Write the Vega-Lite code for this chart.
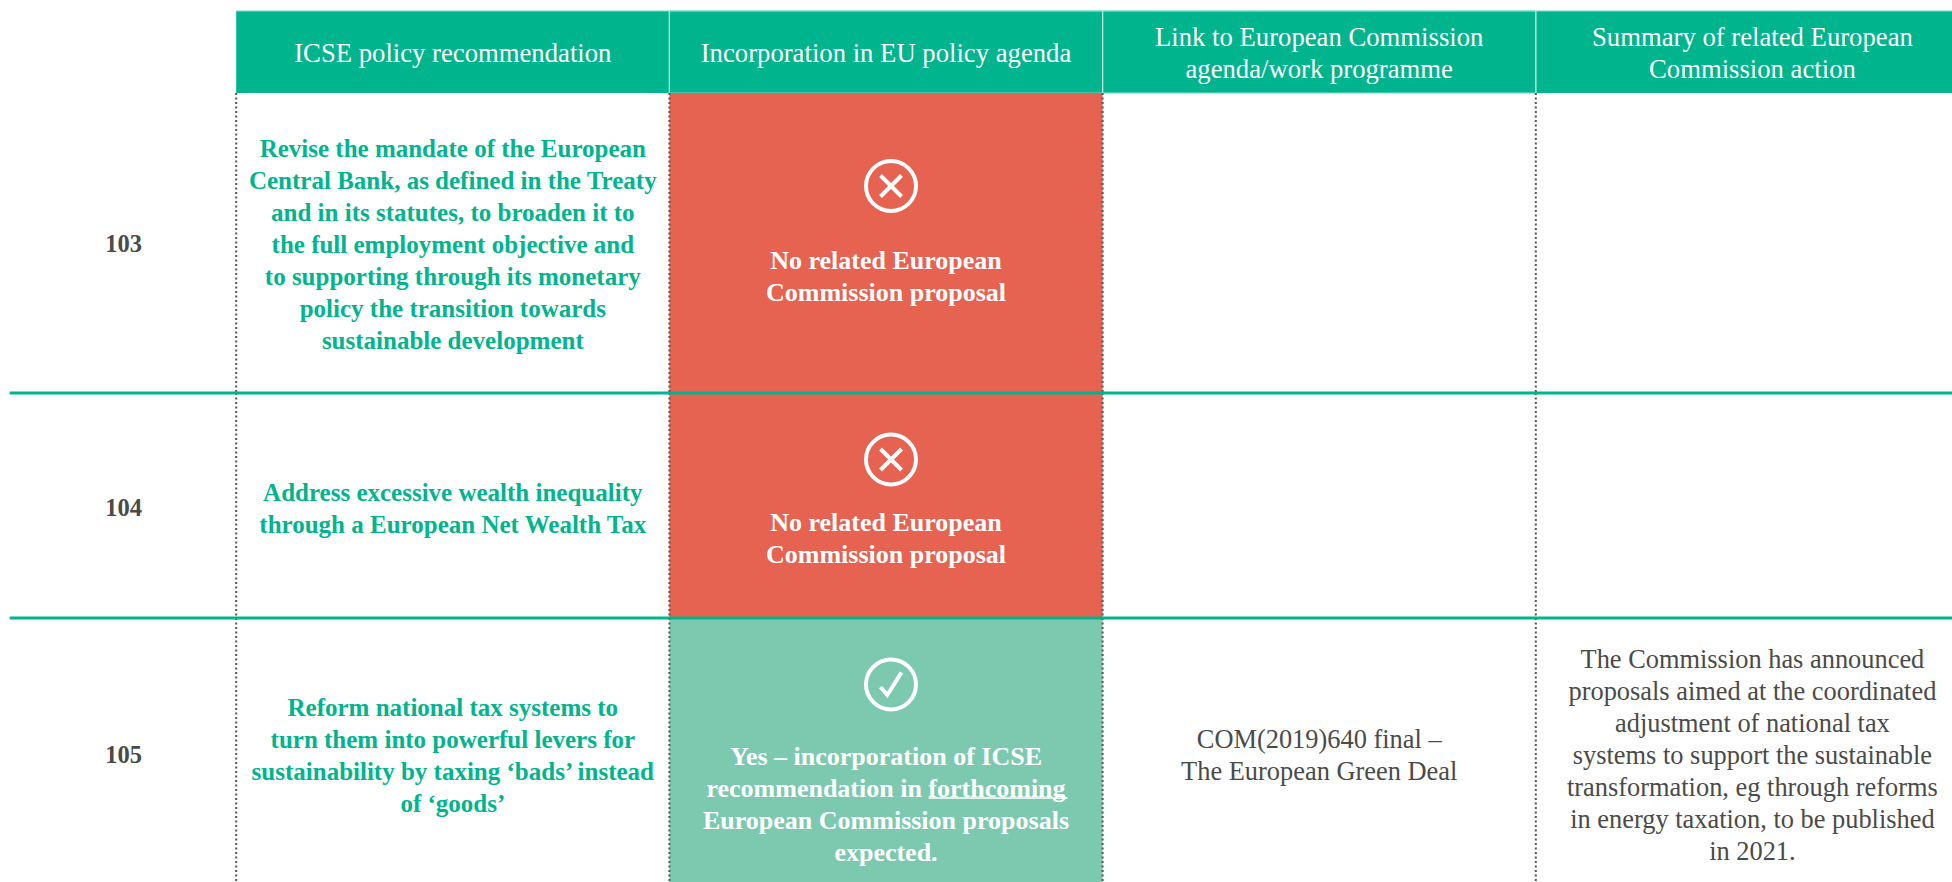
{
"$schema":"https://vega.github.io/schema/vega-lite/v6.json",
"padding":{"left":0,"top":10,"right":0,"bottom":0},
"spacing":0,
"bounds":"flush",
"background":"white",
"config":{"view":{"stroke":null},"axis":{"disable":true},"legend":{"disable":true},"concat":{"spacing":0},
"text":{"font":"Liberation Serif","fontSize":26,"lineHeight":32,"lineBreak":"\n","align":"center","baseline":"middle"}},
"datasets":{"cells":[
{"row":"Header","column":"Number","text":"","status":null},
{"row":"Header","column":"ICSE policy recommendation","text":"ICSE policy recommendation","status":null},
{"row":"Header","column":"Incorporation in EU policy agenda","text":"Incorporation in EU policy agenda","status":null},
{"row":"Header","column":"Link to European Commission agenda/work programme","text":"Link to European Commission\nagenda/work programme","status":null},
{"row":"Header","column":"Summary of related European Commission action","text":"Summary of related European\nCommission action","status":null},
{"row":"103","column":"Number","text":"103","status":null},
{"row":"103","column":"ICSE policy recommendation","text":"Revise the mandate of the European\nCentral Bank, as defined in the Treaty\nand in its statutes, to broaden it to\nthe full employment objective and\nto supporting through its monetary\npolicy the transition towards\nsustainable development","status":null},
{"row":"103","column":"Incorporation in EU policy agenda","text":"No related European\nCommission proposal","status":"no"},
{"row":"103","column":"Link to European Commission agenda/work programme","text":"","status":null},
{"row":"103","column":"Summary of related European Commission action","text":"","status":null},
{"row":"104","column":"Number","text":"104","status":null},
{"row":"104","column":"ICSE policy recommendation","text":"Address excessive wealth inequality\nthrough a European Net Wealth Tax","status":null},
{"row":"104","column":"Incorporation in EU policy agenda","text":"No related European\nCommission proposal","status":"no"},
{"row":"104","column":"Link to European Commission agenda/work programme","text":"","status":null},
{"row":"104","column":"Summary of related European Commission action","text":"","status":null},
{"row":"105","column":"Number","text":"105","status":null},
{"row":"105","column":"ICSE policy recommendation","text":"Reform national tax systems to\nturn them into powerful levers for\nsustainability by taxing ‘bads’ instead\nof ‘goods’","status":null},
{"row":"105","column":"Incorporation in EU policy agenda","text":"Yes – incorporation of ICSE\nrecommendation in forthcoming\nEuropean Commission proposals\nexpected.","status":"yes"},
{"row":"105","column":"Link to European Commission agenda/work programme","text":"COM(2019)640 final –\nThe European Green Deal","status":null},
{"row":"105","column":"Summary of related European Commission action","text":"The Commission has announced\nproposals aimed at the coordinated\nadjustment of national tax\nsystems to support the sustainable\ntransformation, eg through reforms\nin energy taxation, to be published\nin 2021.","status":null}
]},
"vconcat":[
{"width":1952,"height":82,"data":{"name":"cells"},"transform":[{"filter":"datum.row==='Header'"}],
"encoding":{"x":{"field":"column","type":"nominal","scale":{"domain":["Number","ICSE policy recommendation","Incorporation in EU policy agenda","Link to European Commission agenda/work programme","Summary of related European Commission action"],"range":[-197,1969],"padding":0}}},
"layer":[
{"transform":[{"filter":"datum.column!=='Number'"}],"mark":{"type":"rect","color":"#00B48E","clip":true},"encoding":{}},
{"transform":[{"filter":"datum.column==='Incorporation in EU policy agenda'||datum.column==='Link to European Commission agenda/work programme'"}],"mark":{"type":"rect","fill":"#00B48E","stroke":"#7ADBC5","strokeWidth":1.2},"encoding":{}},
{"transform":[{"filter":"datum.column==='ICSE policy recommendation'"}],"mark":{"type":"rule","color":"#7ADBC5","strokeWidth":1.2},"encoding":{"x":{"field":"column","type":"nominal","bandPosition":0},"x2":{"value":1952},"y":{"field":"row","type":"nominal","bandPosition":0,"scale":{"padding":0}}}},
{"transform":[{"filter":"datum.column!=='Number'&&datum.column!=='ICSE policy recommendation'"}],"mark":{"type":"rule","color":"#B5E8DA","strokeWidth":1.2},"encoding":{"x":{"field":"column","type":"nominal","bandPosition":0}}},
{"transform":[{"filter":"datum.column!=='Number'&&indexof(datum.text,'\\n')<0"}],"mark":{"type":"text","color":"white","yOffset":2,"fontSize":26.7},"encoding":{"text":{"field":"text"}}},
{"transform":[{"filter":"datum.column!=='Number'&&indexof(datum.text,'\\n')>=0"}],"mark":{"type":"text","color":"white","yOffset":-14,"fontSize":26.7},"encoding":{"text":{"field":"text"}}}
]},
{"width":1952,"height":300,"data":{"name":"cells"},"transform":[{"filter":"datum.row==='103'"}],
"encoding":{"x":{"field":"column","type":"nominal","scale":{"domain":["Number","ICSE policy recommendation","Incorporation in EU policy agenda","Link to European Commission agenda/work programme","Summary of related European Commission action"],"range":[-197,1969],"padding":0}}},
"layer":[
{"transform":[{"filter":"isValid(datum.status)"}],"mark":{"type":"rect"},"encoding":{"color":{"field":"status","type":"nominal","scale":{"domain":["no","yes"],"range":["#E66251","#7CC9AF"]}}}},
{"transform":[{"filter":"datum.column!=='Number'"}],"mark":{"type":"rule","color":"#555555","strokeWidth":2,"strokeDash":[2,2.5]},"encoding":{"x":{"field":"column","type":"nominal","bandPosition":0}}},
{"transform":[{"filter":"datum.column==='Number'"}],"mark":{"type":"text","color":"#4A4A4A","fontWeight":"bold","fontSize":24.5,"yOffset":2},"encoding":{"x":{"field":"column","type":"nominal","bandPosition":0.74},"text":{"field":"text"}}},
{"transform":[{"filter":"datum.column==='ICSE policy recommendation'"}],"mark":{"type":"text","color":"#00B48E","fontWeight":"bold","fontSize":25,"yOffset":-94},"encoding":{"text":{"field":"text"}}},
{"transform":[{"filter":"isValid(datum.status)"}],"mark":{"type":"text","color":"white","fontWeight":"bold","yOffset":18},"encoding":{"text":{"field":"text"}}},
{"transform":[{"filter":"isValid(datum.status)"}],"mark":{"type":"point","filled":false,"stroke":"white","strokeWidth":4,"opacity":1,"size":2500,"xOffset":5,"yOffset":-57},"encoding":{"shape":{"field":"status","type":"nominal","scale":{"domain":["no","yes"],"range":["M-1,0A1,1 0 1,1 1,0A1,1 0 1,1 -1,0ZM-0.42,-0.42L0.42,0.42M-0.42,0.42L0.42,-0.42","M-1,0A1,1 0 1,1 1,0A1,1 0 1,1 -1,0ZM-0.42,0.1L-0.15,0.42L0.42,-0.48"]}}}}
]},
{"width":1952,"height":225,"data":{"name":"cells"},"transform":[{"filter":"datum.row==='104'"}],
"encoding":{"x":{"field":"column","type":"nominal","scale":{"domain":["Number","ICSE policy recommendation","Incorporation in EU policy agenda","Link to European Commission agenda/work programme","Summary of related European Commission action"],"range":[-197,1969],"padding":0}}},
"layer":[
{"transform":[{"filter":"isValid(datum.status)"}],"mark":{"type":"rect"},"encoding":{"color":{"field":"status","type":"nominal","scale":{"domain":["no","yes"],"range":["#E66251","#7CC9AF"]}}}},
{"transform":[{"filter":"datum.column!=='Number'"}],"mark":{"type":"rule","color":"#555555","strokeWidth":2,"strokeDash":[2,2.5]},"encoding":{"x":{"field":"column","type":"nominal","bandPosition":0}}},
{"transform":[{"filter":"datum.column==='Number'"}],"mark":{"type":"rule","color":"#00B48E","strokeWidth":3},"encoding":{"x":{"field":"column","type":"nominal","bandPosition":0.477},"x2":{"value":1952},"y":{"field":"row","type":"nominal","bandPosition":0,"scale":{"padding":0}}}},
{"transform":[{"filter":"datum.column==='Number'"}],"mark":{"type":"text","color":"#4A4A4A","fontWeight":"bold","fontSize":24.5,"yOffset":3},"encoding":{"x":{"field":"column","type":"nominal","bandPosition":0.74},"text":{"field":"text"}}},
{"transform":[{"filter":"datum.column==='ICSE policy recommendation'"}],"mark":{"type":"text","color":"#00B48E","fontWeight":"bold","fontSize":25,"yOffset":-13},"encoding":{"text":{"field":"text"}}},
{"transform":[{"filter":"isValid(datum.status)"}],"mark":{"type":"text","color":"white","fontWeight":"bold","yOffset":17},"encoding":{"text":{"field":"text"}}},
{"transform":[{"filter":"isValid(datum.status)"}],"mark":{"type":"point","filled":false,"stroke":"white","strokeWidth":4,"opacity":1,"size":2500,"xOffset":5,"yOffset":-46},"encoding":{"shape":{"field":"status","type":"nominal","scale":{"domain":["no","yes"],"range":["M-1,0A1,1 0 1,1 1,0A1,1 0 1,1 -1,0ZM-0.42,-0.42L0.42,0.42M-0.42,0.42L0.42,-0.42","M-1,0A1,1 0 1,1 1,0A1,1 0 1,1 -1,0ZM-0.42,0.1L-0.15,0.42L0.42,-0.48"]}}}}
]},
{"width":1952,"height":265,"data":{"name":"cells"},"transform":[{"filter":"datum.row==='105'"}],
"encoding":{"x":{"field":"column","type":"nominal","scale":{"domain":["Number","ICSE policy recommendation","Incorporation in EU policy agenda","Link to European Commission agenda/work programme","Summary of related European Commission action"],"range":[-197,1969],"padding":0}}},
"layer":[
{"transform":[{"filter":"isValid(datum.status)"}],"mark":{"type":"rect"},"encoding":{"color":{"field":"status","type":"nominal","scale":{"domain":["no","yes"],"range":["#E66251","#7CC9AF"]}}}},
{"transform":[{"filter":"datum.column!=='Number'"}],"mark":{"type":"rule","color":"#555555","strokeWidth":2,"strokeDash":[2,2.5]},"encoding":{"x":{"field":"column","type":"nominal","bandPosition":0}}},
{"transform":[{"filter":"datum.column==='Number'"}],"mark":{"type":"rule","color":"#00B48E","strokeWidth":3},"encoding":{"x":{"field":"column","type":"nominal","bandPosition":0.477},"x2":{"value":1952},"y":{"field":"row","type":"nominal","bandPosition":0,"scale":{"padding":0}}}},
{"transform":[{"filter":"datum.column==='Number'"}],"mark":{"type":"text","color":"#4A4A4A","fontWeight":"bold","fontSize":24.5,"yOffset":5.5},"encoding":{"x":{"field":"column","type":"nominal","bandPosition":0.74},"text":{"field":"text"}}},
{"transform":[{"filter":"datum.column==='ICSE policy recommendation'"}],"mark":{"type":"text","color":"#00B48E","fontWeight":"bold","fontSize":25,"yOffset":-42.5},"encoding":{"text":{"field":"text"}}},
{"transform":[{"filter":"isValid(datum.status)"}],"mark":{"type":"text","color":"white","fontWeight":"bold","yOffset":6},"encoding":{"text":{"field":"text"}}},
{"transform":[{"filter":"isValid(datum.status)"}],"mark":{"type":"tick","orient":"horizontal","color":"white","size":139,"thickness":1.5,"opacity":1,"xOffset":112,"yOffset":47.5},"encoding":{}},
{"transform":[{"filter":"datum.column==='Link to European Commission agenda/work programme'"}],"mark":{"type":"text","color":"#4A4A4A","fontSize":26.4,"yOffset":-10.5},"encoding":{"text":{"field":"text"}}},
{"transform":[{"filter":"datum.column==='Summary of related European Commission action'"}],"mark":{"type":"text","color":"#4A4A4A","fontSize":26.4,"yOffset":-90.5},"encoding":{"text":{"field":"text"}}},
{"transform":[{"filter":"isValid(datum.status)"}],"mark":{"type":"point","filled":false,"stroke":"white","strokeWidth":4,"opacity":1,"size":2500,"xOffset":5,"yOffset":-66},"encoding":{"shape":{"field":"status","type":"nominal","scale":{"domain":["no","yes"],"range":["M-1,0A1,1 0 1,1 1,0A1,1 0 1,1 -1,0ZM-0.42,-0.42L0.42,0.42M-0.42,0.42L0.42,-0.42","M-1,0A1,1 0 1,1 1,0A1,1 0 1,1 -1,0ZM-0.42,0.1L-0.15,0.42L0.42,-0.48"]}}}}
]}
]}
